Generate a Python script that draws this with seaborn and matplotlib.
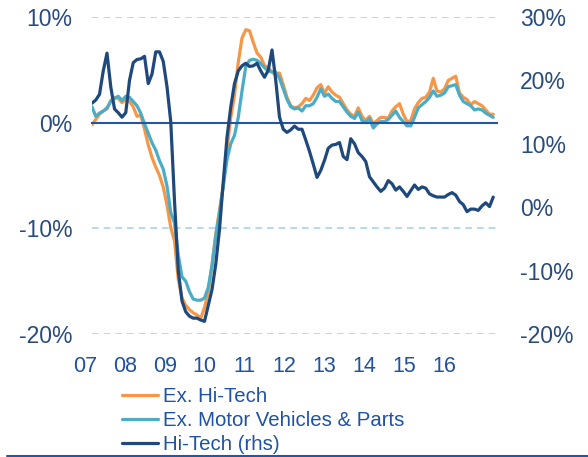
import numpy as np
import pandas as pd
import matplotlib
matplotlib.use('Agg')
import matplotlib.pyplot as plt
import seaborn as sns
from matplotlib.lines import Line2D
from matplotlib.ticker import FuncFormatter

# monthly values, Jan 2007 - Dec 2015 (% y/y)
ex_hitech = [-0.2, 0.3, 0.8, 1.1, 1.3, 2.1, 2.4, 2.3, 1.9, 2.2, 2.0, 1.5,
             0.6, 0.7, -0.6, -2.1, -3.3, -4.2, -5.0, -6.1, -7.8, -9.9, -11.2, -14.8,
             -16.6, -17.3, -17.7, -18.0, -18.2, -18.5, -17.5, -16.0, -13.5, -10.5, -8.3, -6.0,
             -2.5, 0.5, 2.6, 5.7, 8.0, 8.8, 8.7, 7.6, 6.6, 6.2, 5.4, 5.2,
             4.8, 4.5, 4.7, 3.6, 2.4, 1.6, 1.4, 1.5, 1.8, 2.3, 2.1, 2.6,
             3.3, 3.6, 2.8, 3.4, 2.9, 2.6, 2.4, 1.8, 1.2, 0.8, 0.6, 1.4,
             0.6, 0.2, 0.6, -0.1, 0.2, 0.5, 0.5, 0.4, 1.1, 1.5, 1.8, 0.8,
             0.1, 0.2, 1.3, 1.9, 2.3, 2.4, 2.9, 4.2, 3.0, 2.9, 3.2, 4.0,
             4.2, 4.4, 2.8, 2.4, 2.2, 1.7, 2.0, 1.8, 1.6, 1.2, 0.8, 0.8]

ex_motor = [1.5, 0.6, 0.9, 1.1, 1.4, 2.0, 2.3, 2.5, 2.1, 2.5, 2.4, 2.0,
            1.6, 0.9, -0.1, -1.0, -1.9, -2.6, -3.6, -4.4, -6.0, -8.5, -9.5, -12.5,
            -14.6, -15.0, -16.0, -16.7, -16.8, -16.8, -16.6, -15.6, -13.5, -10.8, -8.5, -6.0,
            -3.5, -2.0, -1.2, 0.5, 3.0, 5.3, 5.9, 6.0, 5.9, 5.6, 5.2, 4.9,
            4.8, 4.8, 4.2, 3.2, 2.2, 1.5, 1.3, 1.4, 1.1, 1.6, 1.6, 1.8,
            2.4, 3.2, 2.5, 2.7, 2.3, 2.0, 2.0, 1.5, 1.0, 0.6, 0.4, 1.0,
            0.2, 0.0, 0.4, -0.5, -0.1, 0.1, 0.1, 0.3, 0.7, 1.1, 0.5, 0.1,
            -0.3, -0.3, 0.5, 1.4, 1.7, 2.0, 2.4, 3.0, 2.5, 2.6, 2.8, 3.4,
            3.5, 3.6, 2.6, 2.0, 1.8, 1.6, 1.2, 1.3, 1.2, 0.9, 0.7, 0.5]

hitech = [16.4, 16.9, 17.8, 21.5, 24.3, 19.0, 15.5, 14.9, 14.2, 14.9, 20.0, 22.8,
          23.3, 23.4, 23.8, 19.5, 21.0, 24.5, 24.5, 23.0, 19.0, 13.5, 1.0, -10.0,
          -14.8, -16.5, -17.2, -17.5, -17.5, -17.8, -18.0, -15.5, -13.0, -9.0, -3.5, 4.0,
          11.0, 15.8, 19.5, 21.5, 22.3, 22.7, 22.2, 22.3, 22.7, 21.5, 20.5, 21.6,
          24.8, 20.0, 14.2, 12.3, 11.8, 12.2, 12.8, 12.3, 12.3, 10.6, 8.8, 6.8,
          4.7, 5.8, 7.4, 9.3, 9.8, 9.9, 10.2, 8.0, 7.5, 10.8, 10.0, 8.6,
          8.0, 7.2, 4.8, 4.0, 3.2, 2.5, 3.0, 4.2, 3.7, 2.7, 3.2, 2.5,
          1.7, 2.6, 3.5, 2.8, 3.2, 3.0, 2.1, 1.8, 1.6, 1.6, 1.6, 2.0,
          2.3, 1.9, 0.9, 0.4, -0.7, -0.3, -0.3, -0.5, 0.2, 0.7, 0.1, 1.6]

year_labels = ['07', '08', '09', '10', '11', '12', '13', '14', '15', '16']
left_ticks = [-20, -10, 0, 10]
right_ticks = [-20, -10, 0, 10, 20, 30]

ORANGE = '#F79646'
TEAL = '#4BACC6'
NAVY = '#1F497D'
AXIS_BLUE = '#2157A6'
TICK_TXT = '#284B7E'
LABEL_TXT = '#1F52A0'
GRID = '#A9D6E5'

sns.set_style('white')
plt.rcParams['font.family'] = ['Liberation Sans', 'DejaVu Sans']

t = 2007 + np.arange(len(hitech)) / 12
df = pd.DataFrame({'t': t, 'ex_hitech': ex_hitech, 'ex_motor': ex_motor, 'hitech': hitech})

fig = plt.figure(figsize=(5.88, 4.57), dpi=100)
ax = fig.add_axes([92 / 588, 1 - 334 / 457, (497 - 92) / 588, (334 - 17) / 457])
ax2 = ax.twinx()

sns.lineplot(data=df, x='t', y='ex_hitech', ax=ax, color=ORANGE, lw=2.3,
             label='Ex. Hi-Tech', legend=False)
sns.lineplot(data=df, x='t', y='ex_motor', ax=ax, color=TEAL, lw=2.3,
             label='Ex. Motor Vehicles & Parts', legend=False)
sns.lineplot(data=df, x='t', y='hitech', ax=ax2, color=NAVY, lw=2.3,
             label='Hi-Tech (rhs)', legend=False)

pct = FuncFormatter(lambda v, p: f'{v:.0f}%')

ax.set_xlim(2007, 2016)
ax.set_ylim(-20, 10)
ax.set_yticks(left_ticks)
ax.yaxis.set_major_formatter(pct)
ax.grid(axis='y', color=GRID, ls=(0, (4, 3)), lw=1.2)
ax.set_xlabel('')
ax.set_ylabel('')
for s in ['top', 'right', 'left']:
    ax.spines[s].set_visible(False)
ax.spines['bottom'].set_position(('data', 0))
ax.spines['bottom'].set_color(AXIS_BLUE)
ax.spines['bottom'].set_linewidth(1.5)
ax.set_xticks(np.arange(2007, 2017))
ax.tick_params(axis='x', direction='out', length=5, width=1.5, color=AXIS_BLUE,
               labelbottom=False)
ax.tick_params(axis='y', length=0, pad=14, labelsize=16.5, labelcolor=TICK_TXT)

ax2.set_ylim(-20, 30)
ax2.set_yticks(right_ticks)
ax2.yaxis.set_major_formatter(pct)
ax2.set_ylabel('')
for s in ax2.spines.values():
    s.set_visible(False)
ax2.tick_params(axis='y', length=0, pad=16.5, labelsize=16.5, labelcolor=TICK_TXT)

# year labels sit below the plot, a bit left of the year ticks, as in the original
for k, lab in enumerate(year_labels):
    ax.text(2006.84 + 0.888 * k, -0.102, lab, transform=ax.get_xaxis_transform(),
            ha='center', va='center', fontsize=15.5, color=LABEL_TXT, clip_on=False)

h1, l1 = ax.get_legend_handles_labels()
h2, l2 = ax2.get_legend_handles_labels()
fig.legend(h1 + h2, l1 + l2, loc='upper left', bbox_to_anchor=(122 / 588, 1 - 387 / 457),
           frameon=False, fontsize=14.7, labelcolor=LABEL_TXT, handlelength=1.75,
           handletextpad=0.25, labelspacing=0.25, borderpad=0, borderaxespad=0)

fig.add_artist(Line2D([7 / 588, 1], [1 - 455.5 / 457] * 2, color=AXIS_BLUE, lw=1.5))

fig.savefig('out.png', dpi=100)
